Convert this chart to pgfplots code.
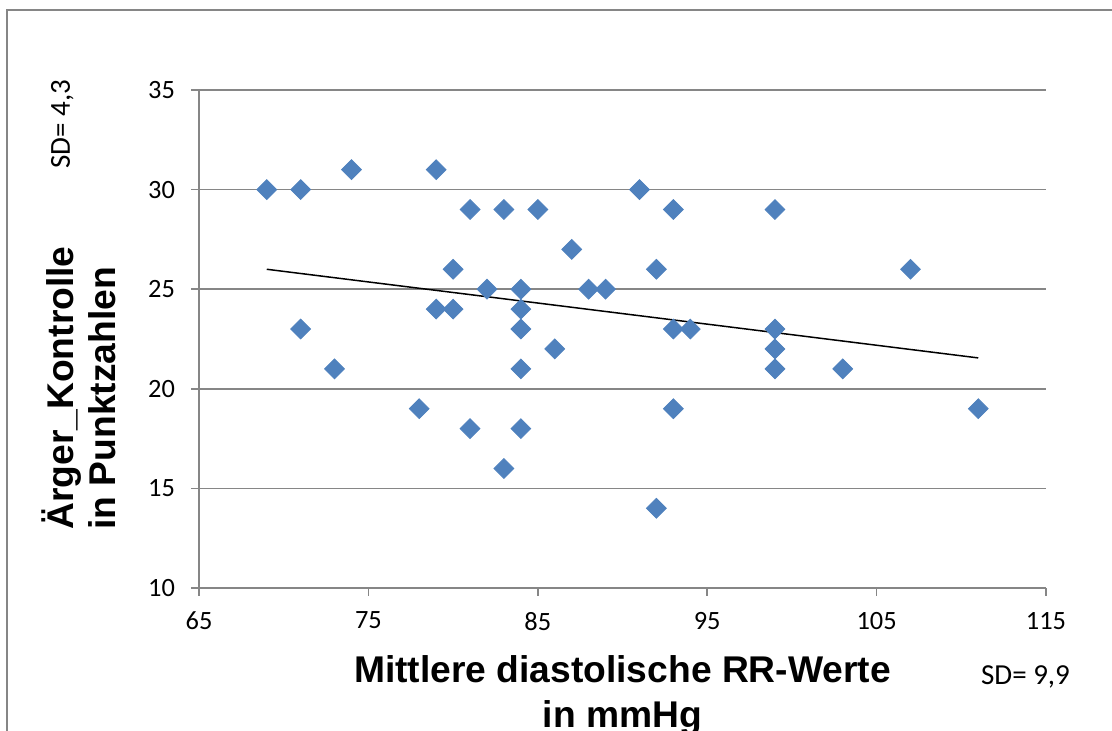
\documentclass[border=0pt]{standalone}
\usepackage{pgfplots}
\pgfplotsset{compat=1.18}
\usepackage{fontspec}
\setmainfont{Carlito}
\newfontfamily\arial{Liberation Sans}
\definecolor{excelblue}{HTML}{4F81BD}
\definecolor{axisgray}{HTML}{868686}
\begin{document}
\begin{tikzpicture}[x=1pt,y=1pt]
\useasboundingbox (0,0) rectangle (556,365.5);
% frame of the chart area
\draw[axisgray, line width=1pt] (3.5,0) -- (3.5,360.5) -- (556,360.5);
\begin{axis}[
  at={(99.5pt,71.5pt)}, anchor=south west,
  scale only axis, width=423.5pt, height=249pt,
  xmin=65, xmax=115, ymin=10, ymax=35,
  xtick={65,75,...,115}, ytick={10,15,...,35},
  axis x line*=bottom, axis y line*=left,
  axis line style={axisgray, line width=0.75pt, -},
  ymajorgrids, grid style={axisgray, line width=0.75pt},
  tick align=outside, major tick length=4pt,
  tick style={axisgray, line width=0.75pt},
  every tick label/.append style={font=\fontsize{13.2}{13.2}\selectfont, text=black},
  xticklabel style={yshift=-4.5pt},
  yticklabel style={xshift=-4.5pt},
  /pgf/number format/assume math mode=true,
  clip=false,
]
\addplot[only marks, mark=square*, mark size=3.5pt,
  mark options={rotate=45, fill=excelblue, draw=excelblue}] coordinates {
  (69,30) (71,30) (74,31) (79,31) (71,23) (73,21) (78,19) (79,24)
  (80,24) (80,26) (81,29) (81,18) (82,25) (83,29) (83,16)
  (84,25) (84,24) (84,23) (84,21) (84,18) (85,29) (86,22) (87,27)
  (88,25) (89,25) (91,30) (92,26) (92,14) (93,29) (93,23) (93,19)
  (94,23) (99,29) (99,23) (99,22) (99,21) (103,21) (107,26) (111,19)
};
% linear trend line
\addplot[black, line width=0.75pt] coordinates {(69,26.0) (111,21.55)};
\end{axis}
\node[rotate=90, anchor=base, inner sep=0pt, font=\fontsize{14.5}{14.5}\selectfont] at (35,303.5) {SD= 4,3};
\node[anchor=base, inner sep=0pt, font=\fontsize{14.5}{14.5}\selectfont] at (512.75,23) {SD= 9,9};
\node[anchor=base, inner sep=0pt, font=\arial\bfseries\fontsize{18.6}{22}\selectfont] at (311.25,24) {Mittlere diastolische RR-Werte};
\node[anchor=base, inner sep=0pt, font=\arial\bfseries\fontsize{18.6}{22}\selectfont] at (311.25,1.5) {in mmHg};
\node[rotate=90, anchor=base west, inner sep=0pt, font=\arial\bfseries\fontsize{18.6}{22}\selectfont] at (36.5,100.5) {Ärger\_Kontrolle};
\node[rotate=90, anchor=base west, inner sep=0pt, font=\arial\bfseries\fontsize{18.6}{22}\selectfont] at (57.5,100.5) {in Punktzahlen};
\end{tikzpicture}
\end{document}
